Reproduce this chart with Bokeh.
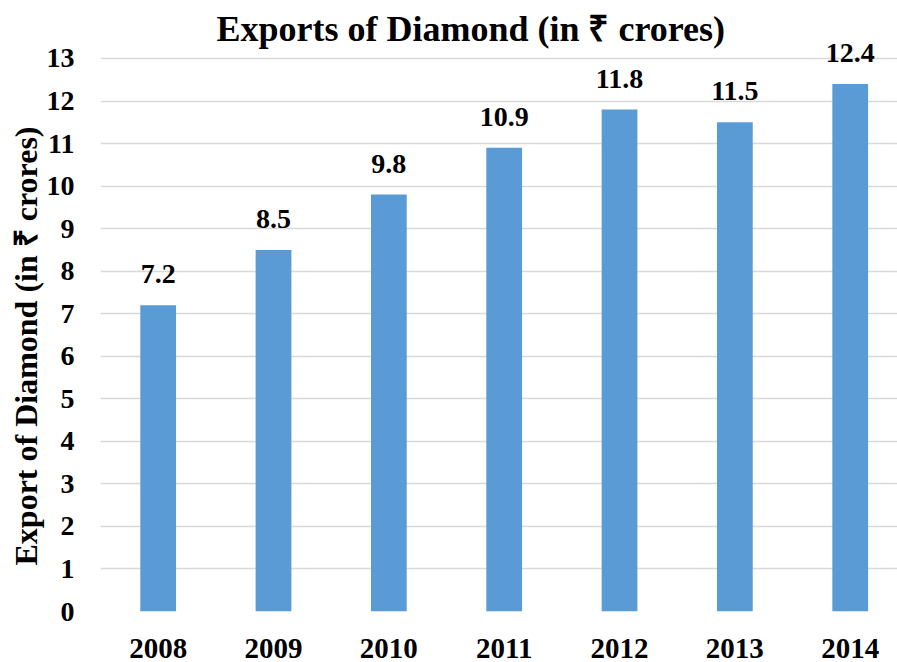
from bokeh.plotting import figure
from bokeh.models import ColumnDataSource, Range1d, FixedTicker, LabelSet, Label, Title
from bokeh.embed import file_html
from bokeh.resources import INLINE

years = [2008, 2009, 2010, 2011, 2012, 2013, 2014]
exports = [7.2, 8.5, 9.8, 10.9, 11.8, 11.5, 12.4]
y_ticks = list(range(0, 14))
title_text = "Exports of Diamond (in ₹ crores)"
y_label = "Export of Diamond (in ₹ crores)"

FONT = "Liberation Serif"

src = ColumnDataSource(dict(x=years, top=exports, lab=[f"{v:.1f}" for v in exports]))

p = figure(width=897, height=662, output_backend="svg", toolbar_location=None,
           x_range=Range1d(2007.5, 2014.41), y_range=Range1d(0, 14.363))
p.min_border_left = 100
p.min_border_right = 0
p.min_border_top = 0
p.min_border_bottom = 51
p.outline_line_color = None
p.background_fill_color = "white"
p.border_fill_color = "white"

p.vbar(x="x", top="top", width=0.31, source=src, fill_color="#5B9BD5", line_color=None)

labels = LabelSet(x="x", y="top", text="lab", source=src, text_align="center",
                  text_baseline="middle", y_offset=31, text_font=FONT,
                  text_font_style="bold", text_font_size="28px", text_color="black")
p.add_layout(labels)

p.add_layout(Label(x=2010.71, y=13.70, text=title_text, text_align="center",
                   text_baseline="middle", text_font=FONT, text_font_style="bold",
                   text_font_size="36px", text_color="black"))

ylab = Title(text=y_label, align="left", offset=46, text_font=FONT,
             text_font_style="bold", text_font_size="32px", text_color="black",
             standoff=0)
p.add_layout(ylab, "left")

p.xaxis.ticker = FixedTicker(ticks=years)
p.yaxis.ticker = FixedTicker(ticks=y_ticks)
for ax in (p.xaxis[0], p.yaxis[0]):
    ax.axis_line_color = None
    ax.major_tick_line_color = None
    ax.minor_tick_line_color = None
    ax.major_label_text_font = FONT
    ax.major_label_text_font_style = "bold"
    ax.major_label_text_color = "black"
p.xaxis.major_label_text_font_size = "29px"
p.yaxis.major_label_text_font_size = "28px"
p.xaxis.major_label_standoff = 21
p.yaxis.major_label_standoff = 20

p.xgrid.grid_line_color = None
p.ygrid.grid_line_color = "#d9d9d9"
p.ygrid.grid_line_width = 1.5

open("out.html", "w").write(file_html(p, INLINE))
